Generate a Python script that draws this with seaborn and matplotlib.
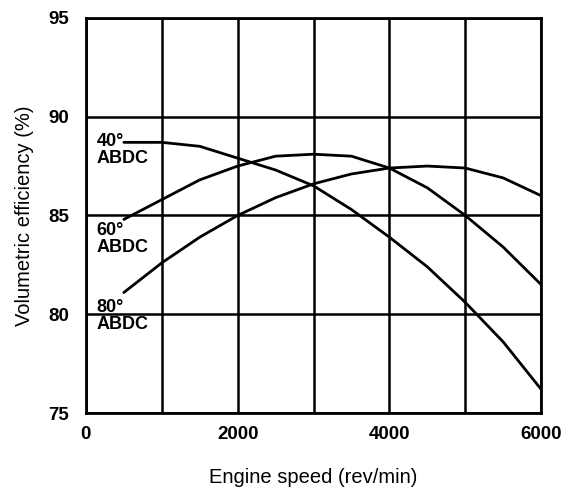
import matplotlib
matplotlib.use("Agg")
import matplotlib.pyplot as plt
import seaborn as sns
import pandas as pd

speed = [500, 1000, 1500, 2000, 2500, 3000, 3500, 4000, 4500, 5000, 5500, 6000]
eff_40 = [88.7, 88.7, 88.5, 87.9, 87.3, 86.5, 85.3, 83.9, 82.4, 80.6, 78.6, 76.2]
eff_60 = [84.8, 85.8, 86.8, 87.5, 88.0, 88.1, 88.0, 87.4, 86.4, 85.0, 83.4, 81.5]
eff_80 = [81.1, 82.6, 83.9, 85.0, 85.9, 86.6, 87.1, 87.4, 87.5, 87.4, 86.9, 86.0]
series_names = ["40° ABDC", "60° ABDC", "80° ABDC"]
x_ticks = [0, 2000, 4000, 6000]
x_ticklabels = ["0", "2000", "4000", "6000"]
y_ticks = [75, 80, 85, 90, 95]

sns.set_theme(style="white")
plt.rcParams['font.family'] = ['Liberation Sans', 'DejaVu Sans']
plt.rcParams['text.color'] = 'black'
plt.rcParams['axes.labelcolor'] = 'black'
plt.rcParams['xtick.color'] = 'black'
plt.rcParams['ytick.color'] = 'black'

df = pd.concat([
    pd.DataFrame({"speed": speed, "eff": vals, "timing": name})
    for name, vals in zip(series_names, [eff_40, eff_60, eff_80])
])

fig = plt.figure(figsize=(5.69, 4.97), dpi=100)
ax = fig.add_axes([0.151, 0.169, 0.800, 0.795])

sns.lineplot(data=df, x="speed", y="eff", hue="timing",
             palette=["black"] * 3, legend=False, linewidth=2, ax=ax)

ax.set_xlim(0, 6000)
ax.set_ylim(75, 95)
ax.set_xticks(x_ticks)
ax.set_xticks(range(1000, 6000, 1000), minor=True)
ax.set_xticklabels(x_ticklabels, fontsize=13.5, fontweight="bold")
ax.set_yticks(y_ticks)
ax.set_yticklabels([str(v) for v in y_ticks], fontsize=13.5, fontweight="bold")
ax.grid(True, which="both", color="black", linewidth=1.8)
ax.tick_params(axis="x", which="both", length=0, pad=9)
ax.tick_params(axis="y", which="both", length=0, pad=12)
for s in ax.spines.values():
    s.set_color("black")
    s.set_linewidth(2)

ax.set_xlabel("Engine speed (rev/min)", fontsize=14.5, labelpad=18)
ax.set_ylabel("Volumetric efficiency (%)", fontsize=14.5, labelpad=10)

for name, y in zip(["40°\nABDC", "60°\nABDC", "80°\nABDC"], [88.3, 83.8, 79.9]):
    ax.text(140, y, name, fontsize=13, fontweight="bold", va="center", ha="left",
            linespacing=1.0)

fig.savefig("out.png", dpi=100)
